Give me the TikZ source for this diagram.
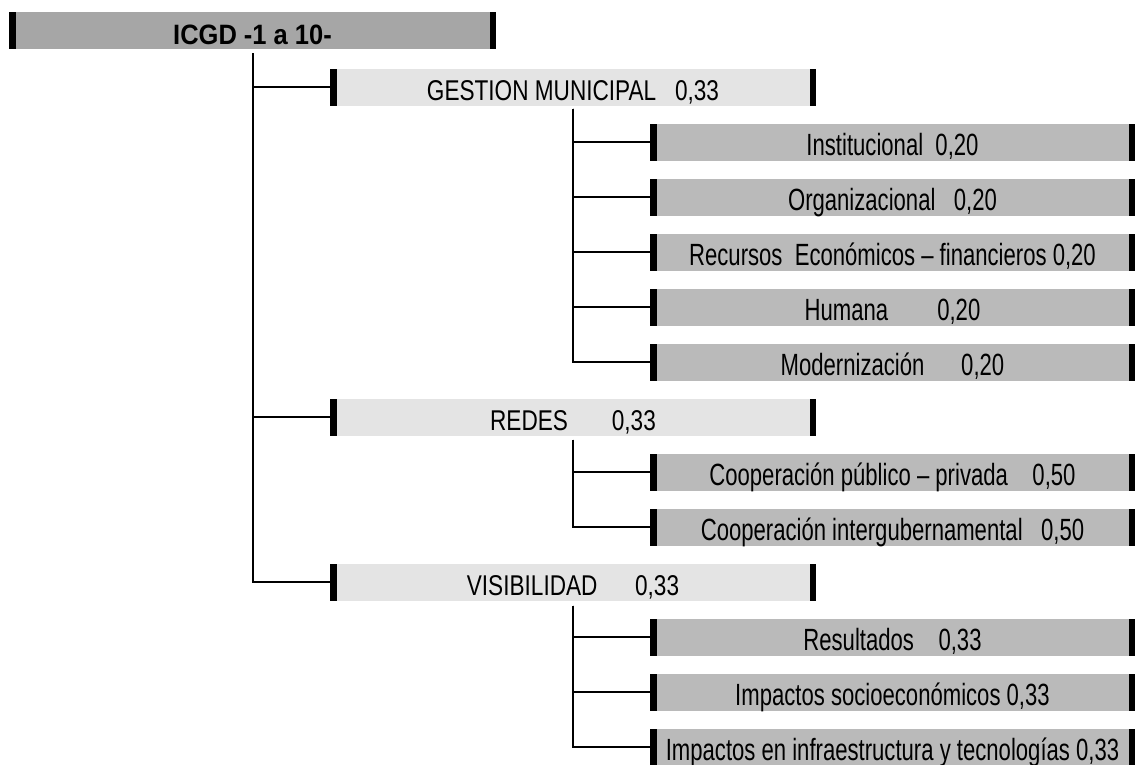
\documentclass[tikz,border=0pt]{standalone}
\usepackage{fontspec}
\setmainfont{Liberation Sans}
\newfontfamily\rootfont[FakeStretch=0.91]{Liberation Sans}
\newfontfamily\lvonefont[FakeStretch=0.79]{Liberation Sans}
\newfontfamily\lvtwofont[FakeStretch=0.72]{Liberation Sans}
\usepackage{xcolor}
\usetikzlibrary{positioning}

\definecolor{rootgray}{gray}{0.65}
\definecolor{lvonegray}{gray}{0.894}
\definecolor{lvtwogray}{gray}{0.73}

\tikzset{
  bar/.style={minimum width=486pt,minimum height=37pt,inner xsep=0pt,inner ysep=0pt,
    outer sep=0pt,text height=32pt,text depth=5pt,
    path picture={
      \fill[black] (path picture bounding box.south west) rectangle ++(6.5pt,37pt);
      \fill[black] (path picture bounding box.north east) rectangle ++(-6.5pt,-37pt);
    }},
  rootbar/.style={bar,minimum width=487pt,fill=rootgray,
    font=\rootfont\bfseries\fontsize{28}{30}\selectfont},
  lvone/.style={bar,fill=lvonegray,font=\lvonefont\fontsize{28.6}{30}\selectfont},
  lvtwo/.style={bar,minimum width=485pt,fill=lvtwogray,
    font=\lvtwofont\fontsize{30.7}{32}\selectfont},
  link/.style={line width=2pt},
}

\begin{document}
\begin{tikzpicture}[x=1pt,y=-1pt,node distance=18pt]
  \useasboundingbox (0,0) rectangle (1135,764);
  % index
  \node[rootbar] (icgd) at (252.5,30.5) {ICGD -1 a 10-};
  % dimensions
  \node[lvone] (gestion) at (573,87) {GESTION MUNICIPAL~~~0,33};
  \node[lvone] (redes) at (573,417) {REDES~~~~~~~0,33};
  \node[lvone] (visib) at (573,582) {VISIBILIDAD~~~~~~0,33};
  % gestion municipal
  \node[lvtwo] (inst) at (892.5,142) {Institucional~~0,20};
  \node[lvtwo,below=of inst] (organ) {Organizacional~~~0,20};
  \node[lvtwo,below=of organ] (recur) {Recursos~~Económicos – financieros 0,20};
  \node[lvtwo,below=of recur] (humana) {Humana~~~~~~~~0,20};
  \node[lvtwo,below=of humana] (modern) {Modernización~~~~~~0,20};
  % redes
  \node[lvtwo] (coopub) at (892.5,472) {Cooperación público – privada~~~~0,50};
  \node[lvtwo,below=of coopub] (coopint) {Cooperación intergubernamental~~~0,50};
  % visibilidad
  \node[lvtwo] (result) at (892.5,637) {Resultados~~~~0,33};
  \node[lvtwo,below=of result] (impsoc) {Impactos socioeconómicos 0,33};
  \node[lvtwo,below=of impsoc] (impinf) {Impactos en infraestructura y tecnologías 0,33};

  \foreach \dim in {gestion,redes,visib}
    \draw[link] ([yshift=-4pt]icgd.south) |- (\dim.west);
  \foreach \sub in {inst,organ,recur,humana,modern}
    \draw[link] ([yshift=-3pt]gestion.south) |- (\sub.west);
  \foreach \sub in {coopub,coopint}
    \draw[link] ([yshift=-4pt]redes.south) |- (\sub.west);
  \foreach \sub in {result,impsoc,impinf}
    \draw[link] ([yshift=-5pt]visib.south) |- (\sub.west);
\end{tikzpicture}
\end{document}
